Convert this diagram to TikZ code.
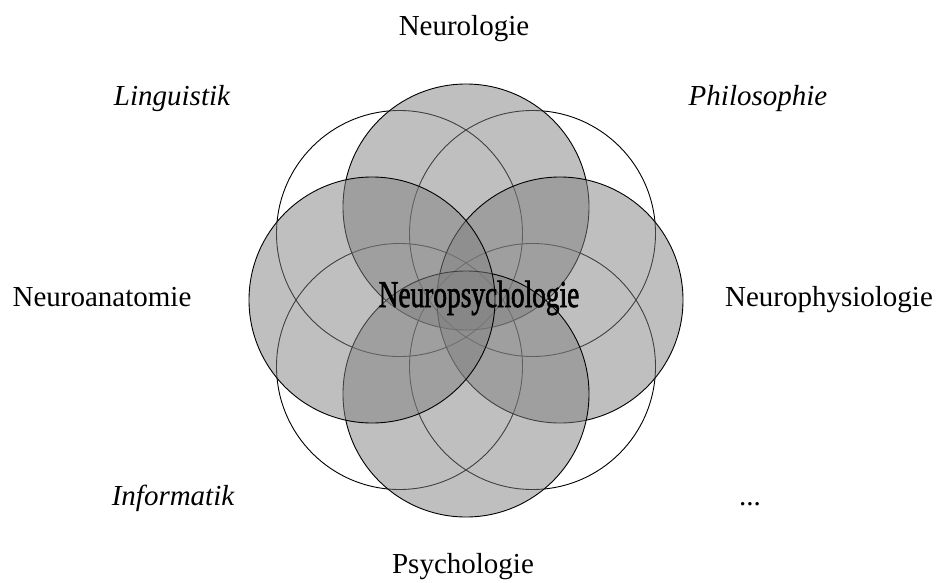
\documentclass[tikz,border=0pt]{standalone}
\usepackage{fontspec}
\setmainfont{Liberation Serif}
\newfontfamily\heavyserif[FakeBold=2]{Liberation Serif}
\begin{document}
\begin{tikzpicture}[x=1pt,y=-1pt,
  ring/.style={circle,draw=black,line width=0.9pt,minimum size=246pt,inner sep=0pt},
  field/.style={ring,fill=black!50,fill opacity=0.5},
  lbl/.style={anchor=base,inner sep=0pt,font=\fontsize{29}{34}\selectfont},
  ilbl/.style={lbl,font=\fontsize{29}{34}\selectfont\itshape}]
\useasboundingbox (0,0) rectangle (937,582);
% outline-only rings on the diagonals
\node[ring] (rTL) at (399.5,233.5) {};
\node[ring] (rTR) at (532.5,233.5) {};
\node[ring] (rBL) at (399.5,366.5) {};
\node[ring] (rBR) at (532.5,366.5) {};
% shaded fields, stacked clockwise
\node[field] (fTop) at (466,207) {};
\node[field] (fRight) at (560,300) {};
\node[field] (fBottom) at (466,394) {};
\node[field] (fLeft) at (372,300) {};
% central label
\node[anchor=base,inner sep=0pt,xscale=0.72] (core) at (479,307)
  {\heavyserif\fontsize{38}{44}\selectfont Neuropsychologie};
% surrounding disciplines
\node[lbl] (nTop) at (464,35) {Neurologie};
\node[ilbl] (nTL) at (172,105) {Linguistik};
\node[ilbl] (nTR) at (758,105) {Philosophie};
\node[lbl] (nL) at (102,306) {Neuroanatomie};
\node[lbl] (nR) at (829,306) {Neurophysiologie};
\node[ilbl] (nBL) at (173,505) {Informatik};
\node[lbl] (nBR) at (750,505) {...};
\node[lbl] (nB) at (463,573) {Psychologie};
\end{tikzpicture}
\end{document}
